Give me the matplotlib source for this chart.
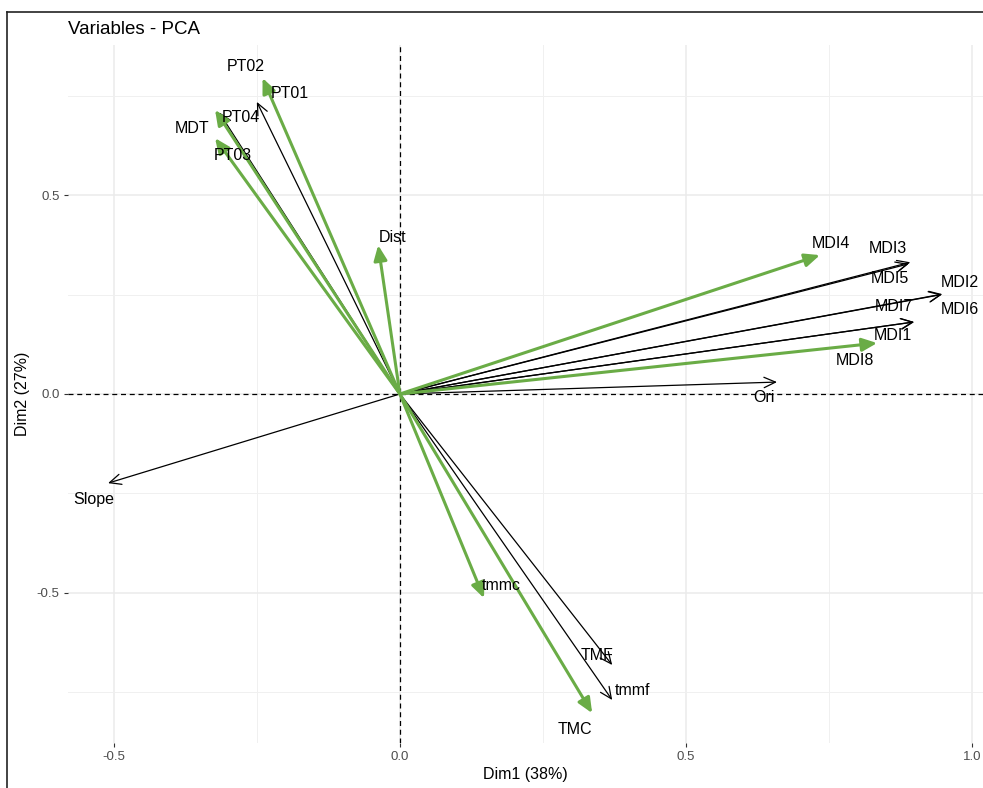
import matplotlib
matplotlib.use("Agg")
import matplotlib.pyplot as plt
from matplotlib.lines import Line2D
from matplotlib.ticker import MultipleLocator

plt.rcParams['font.family'] = ['Liberation Sans', 'DejaVu Sans']

# variable coordinates (Dim1, Dim2)
names = ['PT02', 'PT01', 'PT04', 'MDT', 'PT03', 'Dist', 'MDI4', 'MDI3', 'MDI5',
         'MDI2', 'MDI6', 'MDI7', 'MDI1', 'MDI8', 'Ori', 'Slope', 'tmmc', 'TMF',
         'tmmf', 'TMC']
dim1 = [-0.240, -0.250, -0.323, -0.316, -0.323, -0.038, 0.734, 0.892, 0.889,
        0.948, 0.947, 0.899, 0.898, 0.834, 0.659, -0.510, 0.147, 0.371,
        0.371, 0.336]
dim2 = [0.794, 0.734, 0.714, 0.708, 0.643, 0.374, 0.349, 0.331, 0.327,
        0.251, 0.250, 0.181, 0.181, 0.128, 0.030, -0.224, -0.513, -0.681,
        -0.769, -0.802]
group = ['g', 'k', 'g', 'k', 'g', 'g', 'g', 'k', 'k',
         'k', 'k', 'k', 'k', 'g', 'k', 'k', 'g', 'k',
         'k', 'g']

# label placement relative to arrow tips (layout only)
label_offsets = {
    'PT02': (-0.029, 0.028), 'PT01': (0.058, 0.020), 'PT04': (0.045, -0.018),
    'MDT': (-0.048, -0.040), 'PT03': (0.031, -0.043), 'Dist': (0.026, 0.020),
    'MDI4': (0.019, 0.028), 'MDI3': (-0.039, 0.035), 'MDI5': (-0.032, -0.036),
    'MDI2': (0.030, 0.028), 'MDI6': (0.032, -0.038), 'MDI7': (-0.035, 0.038),
    'MDI1': (-0.036, -0.034), 'MDI8': (-0.039, -0.043), 'Ori': (-0.023, -0.038),
    'Slope': (-0.025, -0.042), 'tmmc': (0.030, 0.033), 'TMF': (-0.027, 0.025),
    'tmmf': (0.035, 0.025), 'TMC': (-0.030, -0.042),
}

green = '#6aac46'

fig = plt.figure(figsize=(9.83, 7.88), dpi=100)
ax = fig.add_axes([68 / 983, 45 / 788, 915 / 983, 698 / 788])
ax.set_xlim(-0.580, 1.019)
ax.set_ylim(-0.877, 0.877)

ax.xaxis.set_major_locator(MultipleLocator(0.5))
ax.yaxis.set_major_locator(MultipleLocator(0.5))
ax.xaxis.set_minor_locator(MultipleLocator(0.25))
ax.yaxis.set_minor_locator(MultipleLocator(0.25))
ax.grid(which='major', color='#ebebeb', lw=1.1)
ax.grid(which='minor', color='#f0f0f0', lw=0.7)
ax.set_axisbelow(True)
for s in ax.spines.values():
    s.set_visible(False)
ax.tick_params(which='major', length=3, width=0.8, color='#333333',
               labelsize=9.5, labelcolor='#4d4d4d', pad=3)
ax.tick_params(which='minor', length=0)
ax.set_xticks([-0.5, 0.0, 0.5, 1.0])
ax.set_xticklabels(['-0.5', '0.0', '0.5', '1.0'])
ax.set_yticks([-0.5, 0.0, 0.5])
ax.set_yticklabels(['-0.5', '0.0', '0.5'])

ax.axhline(0, color='black', ls='--', lw=0.9, dashes=(4, 3))
ax.axvline(0, color='black', ls='--', lw=0.9, dashes=(4, 3))

for nm, x, y, g in zip(names, dim1, dim2, group):
    if g == 'g':
        props = dict(arrowstyle='-|>,head_length=0.5,head_width=0.22',
                     color=green, lw=2.2, mutation_scale=18,
                     shrinkA=0, shrinkB=0)
        z = 4
    else:
        props = dict(arrowstyle='->,head_length=0.55,head_width=0.25',
                     color='black', lw=0.9, mutation_scale=15,
                     shrinkA=0, shrinkB=0)
        z = 3
    ax.annotate('', xy=(x, y), xytext=(0, 0), arrowprops=props, zorder=z)
    dx, dy = label_offsets[nm]
    ax.text(x + dx, y + dy, nm, ha='center', va='center', fontsize=11.5,
            color='black', zorder=5)

ax.set_xlabel('Dim1 (38%)', fontsize=11.5, labelpad=3)
ax.set_ylabel('Dim2 (27%)', fontsize=11.5, labelpad=5)
fig.text(68 / 983, 1 - 30 / 788, 'Variables - PCA', fontsize=13.5,
         ha='left', va='center')

# screenshot frame
fig.add_artist(Line2D([7 / 983, 7 / 983], [0, 1 - 12 / 788],
                      transform=fig.transFigure, color='#222222', lw=1.2))
fig.add_artist(Line2D([7 / 983, 1], [1 - 12 / 788, 1 - 12 / 788],
                      transform=fig.transFigure, color='#222222', lw=1.2))

fig.savefig('out.png', dpi=100)
